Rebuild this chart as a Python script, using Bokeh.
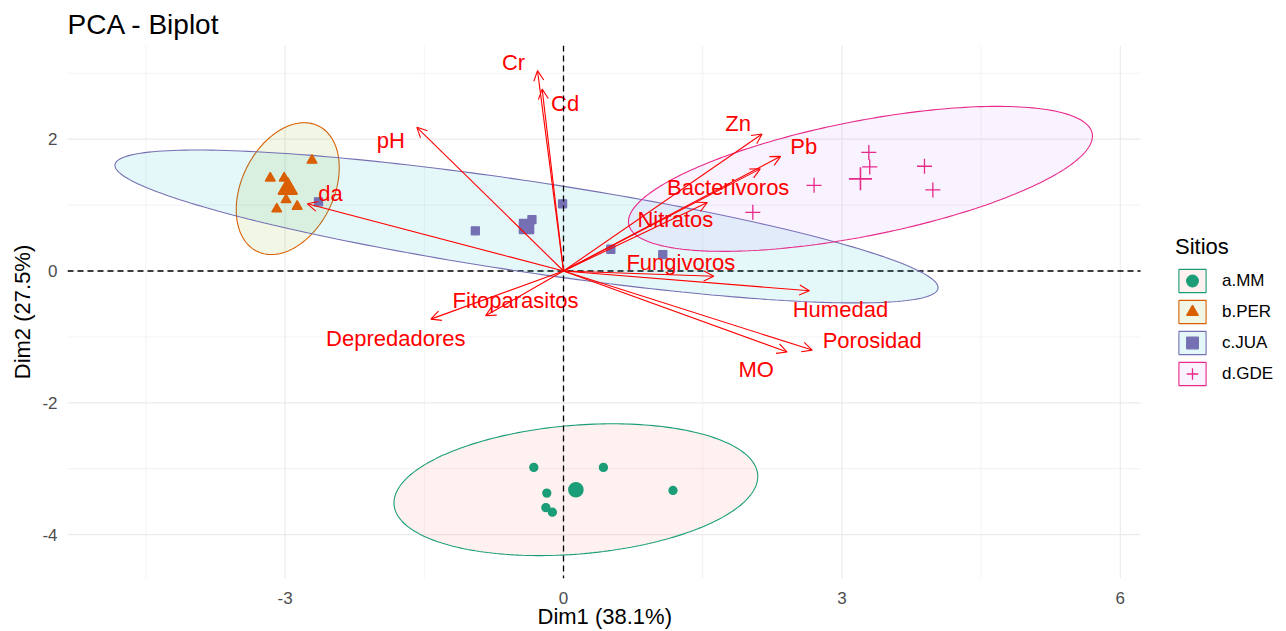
import numpy as np
from bokeh.plotting import figure
from bokeh.models import (Range1d, FixedTicker, Span, Arrow, OpenHead, ColumnDataSource,
                          Legend, LegendItem, Title)
from bokeh.core.properties import value
from bokeh.embed import file_html
from bokeh.resources import INLINE

# ---------------- data ----------------
sites = ["a.MM", "b.PER", "c.JUA", "d.GDE"]

mm_dim1 = [-0.32, 0.43, -0.18, -0.19, -0.12, 1.18]
mm_dim2 = [-2.98, -2.98, -3.37, -3.59, -3.66, -3.33]
per_dim1 = [-2.71, -3.16, -3.01, -2.99, -3.09, -2.87]
per_dim2 = [1.68, 1.41, 1.41, 1.08, 0.94, 0.98]
jua_dim1 = [-2.64, -0.95, -0.43, -0.34, -0.01, 0.51, 1.07]
jua_dim2 = [1.05, 0.61, 0.69, 0.78, 1.02, 0.33, 0.25]
gde_dim1 = [3.29, 3.30, 3.89, 3.98, 2.70, 2.04]
gde_dim2 = [1.80, 1.58, 1.59, 1.23, 1.30, 0.89]

# concentration ellipse shape per site: half-width (Dim1), half-height (Dim2), correlation
ell_half_w = [1.96, 0.555, 4.435, 2.50]
ell_half_h = [1.00, 1.00, 1.16, 1.10]
ell_rho = [0.20, 0.32, -0.80, 0.59]

var_names = ["Cr", "Cd", "pH", "Zn", "Pb", "Bacterivoros", "Nitratos", "Fungivoros",
             "Humedad", "Porosidad", "MO", "Fitoparasitos", "Depredadores", "da"]
var_dim1 = [-0.28, -0.23, -1.58, 2.14, 2.34, 2.12, 1.55, 1.62, 2.65, 2.68, 2.41, -0.84, -1.43, -2.76]
var_dim2 = [3.04, 2.76, 2.18, 2.08, 1.74, 1.55, 1.04, -0.08, -0.30, -1.20, -1.23, -0.68, -0.73, 1.02]

x_ticks = [-3, 0, 3, 6]
x_minor = [-4.5, -1.5, 1.5, 4.5]
y_ticks = [-4, -2, 0, 2]
y_minor = [-3, -1, 1, 3]

# ---------------- layout / styles ----------------
X_LO, X_HI = -5.345, 6.218      # panel limits of the plot
X_CANVAS = 7.791                # frame extends under the legend area
Y_LO, Y_HI = -4.666, 3.422
line_colors = ["#1B9E77", "#D95F02", "#7570B3", "#E7298A"]
fill_colors = ["#F8766D", "#7CAE00", "#00BFC4", "#C77CFF"]
markers = ["circle", "triangle", "square", "cross"]
pt_sizes = [8, 10, 8, 15]
cen_sizes = [14, 19, 14, 23]
label_dx = [-24, 23, -26, -24, 23, -32, -32, -33, 31, 60, -31, 30, -35, 23]
label_dy = [-8, 14, 13, -10, -10, 19, 17, -14, 19, -10, 17, -15, 19, -10]
FONT = "Liberation Sans"
VAR_COLOR = "#FF0000"
GRID = "#EBEBEB"

groups = [(mm_dim1, mm_dim2), (per_dim1, per_dim2), (jua_dim1, jua_dim2), (gde_dim1, gde_dim2)]

p = figure(width=1286, height=631, output_backend="svg", toolbar_location=None,
           x_range=Range1d(X_LO, X_CANVAS), y_range=Range1d(Y_LO, Y_HI),
           min_border_left=67, min_border_right=0, min_border_top=45, min_border_bottom=53)
p.outline_line_color = None
p.background_fill_color = "white"
p.xgrid.visible = False
p.ygrid.visible = False

p.title.text = "PCA - Biplot"
p.title.text_font = FONT
p.title.text_font_size = "28px"
p.title.text_font_style = "normal"
p.title.text_color = "black"
p.title.align = "left"
p.title.standoff = 12

p.xaxis.ticker = FixedTicker(ticks=x_ticks)
p.yaxis.ticker = FixedTicker(ticks=y_ticks)
p.xaxis.major_label_overrides = {t: str(t) for t in x_ticks}
p.yaxis.major_label_overrides = {t: str(t) for t in y_ticks}
for ax in (p.xaxis[0], p.yaxis[0]):
    ax.axis_line_color = None
    ax.major_tick_line_color = None
    ax.minor_tick_line_color = None
    ax.major_tick_out = 0
    ax.major_tick_in = 0
    ax.minor_tick_out = 0
    ax.major_label_text_font = FONT
    ax.major_label_text_font_size = "17px"
    ax.major_label_text_color = "#4D4D4D"
    ax.axis_label_text_font = FONT
    ax.axis_label_text_font_size = "22px"
    ax.axis_label_text_font_style = "normal"
    ax.axis_label_text_color = "black"
p.yaxis.axis_label = "Dim2 (27.5%)"
p.xaxis.major_label_standoff = 13
p.yaxis.major_label_standoff = 10
p.yaxis.axis_label_standoff = 4

# x-axis title, centred on the plot panel (the frame also covers the legend area)
p.add_layout(Title(text="Dim1 (38.1%)", align="left", offset=470, standoff=-10,
                   text_font=FONT, text_font_size="22px", text_font_style="normal",
                   text_color="black"), "below")

# grid lines (limited to the plot panel)
p.segment(x0=x_minor, y0=[Y_LO] * len(x_minor), x1=x_minor, y1=[Y_HI] * len(x_minor),
          line_color=GRID, line_width=0.6)
p.segment(x0=[X_LO] * len(y_minor), y0=y_minor, x1=[X_HI] * len(y_minor), y1=y_minor,
          line_color=GRID, line_width=0.6)
p.segment(x0=x_ticks, y0=[Y_LO] * len(x_ticks), x1=x_ticks, y1=[Y_HI] * len(x_ticks),
          line_color=GRID, line_width=1.2)
p.segment(x0=[X_LO] * len(y_ticks), y0=y_ticks, x1=[X_HI] * len(y_ticks), y1=y_ticks,
          line_color=GRID, line_width=1.2)

# reference lines
p.segment(x0=[X_LO], y0=[0], x1=[X_HI], y1=[0], line_color="black", line_dash="6 4", line_width=1.3)
p.add_layout(Span(location=0, dimension="height", line_color="black", line_dash="6 4", line_width=1.3))

t = np.linspace(0, 2 * np.pi, 240)
items = []
for i, (gx, gy) in enumerate(groups):
    cx, cy = float(np.mean(gx)), float(np.mean(gy))
    w, h, r = ell_half_w[i], ell_half_h[i], ell_rho[i]
    ex = cx + w * np.cos(t)
    ey = cy + h * (r * np.cos(t) + np.sqrt(1 - r * r) * np.sin(t))
    patch = p.patch(ex, ey, fill_color=fill_colors[i], fill_alpha=0.1,
                    line_color=line_colors[i], line_width=1.1)
    items.append(patch)

scat = []
for i, (gx, gy) in enumerate(groups):
    src = ColumnDataSource(dict(x=gx, y=gy))
    s = p.scatter("x", "y", source=src, marker=markers[i], size=pt_sizes[i],
                  fill_color=line_colors[i], line_color=line_colors[i], line_width=1.3)
    p.scatter([float(np.mean(gx))], [float(np.mean(gy))], marker=markers[i], size=cen_sizes[i],
              fill_color=line_colors[i], line_color=line_colors[i], line_width=1.6)
    scat.append(s)

vsrc = ColumnDataSource(dict(x=var_dim1, y=var_dim2, name=var_names, dx=label_dx, dy=label_dy))
p.add_layout(Arrow(end=OpenHead(size=10, line_color=VAR_COLOR, line_width=1.1),
                   x_start=0, y_start=0, x_end="x", y_end="y", source=vsrc,
                   line_color=VAR_COLOR, line_width=1.1))
p.text("x", "y", text="name", source=vsrc, x_offset="dx", y_offset="dy",
       text_font=value(FONT), text_font_size=value("22px"), text_color=VAR_COLOR,
       text_align="center", text_baseline="middle")

legend = Legend(items=[LegendItem(label=sites[i], renderers=[items[i], scat[i]]) for i in range(4)],
                title="Sitios", location=(1108, 190), margin=0, padding=0, spacing=2,
                glyph_width=34, glyph_height=29, label_standoff=13,
                label_text_font=FONT, label_text_font_size="17px", label_text_color="black",
                title_text_font=FONT, title_text_font_size="22px", title_text_font_style="normal",
                title_text_color="black", title_standoff=6,
                border_line_color=None, background_fill_alpha=0)
p.add_layout(legend)

open("out.html", "w").write(file_html(p, INLINE))
